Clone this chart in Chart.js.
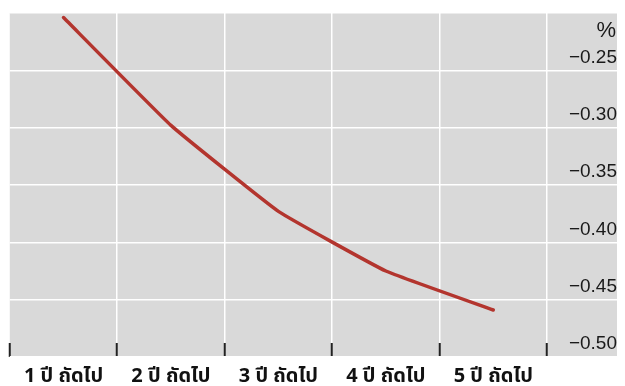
<!DOCTYPE html>
<html lang="th">
<head>
    <meta charset="UTF-8">
    <title>อัตราดอกเบี้ย ปีถัดไป</title>
    <script src="https://cdn.jsdelivr.net/npm/chart.js"></script>
    <style>
        html, body {
            margin: 0;
            padding: 0;
            background: #fff;
        }
        canvas {
            display: block;
        }
    </style>
</head>
<body>
<canvas id="chart" width="625" height="386"></canvas>

<script>
    // ข้อมูลจากกราฟ
    const labels = ['1 ปี ถัดไป', '2 ปี ถัดไป', '3 ปี ถัดไป', '4 ปี ถัดไป', '5 ปี ถัดไป'];
    const values = [-0.204, -0.298, -0.373, -0.425, -0.459];
    const yTicks = [-0.50, -0.45, -0.40, -0.35, -0.30, -0.25, -0.20];
    const unitLabel = '%';

    const gray = '#d9d9d9';
    const lineColor = '#b3352e';
    const axisWidth = 70;   // พื้นที่ป้ายแกน y ด้านขวา
    const labelRight = 65;  // ขอบขวาของตัวเลขนับจากเส้นแกน

    function fmt(v) {
        if (v > -0.225) return '';
        return '\u2212' + Math.abs(v).toFixed(2);
    }

    const yFont = { family: '"Liberation Sans", Arial, sans-serif', size: 19 };
    const meas = document.createElement('canvas').getContext('2d');
    meas.font = yFont.size + 'px ' + yFont.family;
    const widest = Math.max(...yTicks.map(v => meas.measureText(fmt(v)).width));

    // พื้นหลังสีเทา + สัญลักษณ์ %
    const panel = {
        id: 'panel',
        beforeDraw(chart) {
            const { ctx, chartArea } = chart;
            const y = chart.scales.y;
            ctx.save();
            ctx.fillStyle = gray;
            ctx.fillRect(chartArea.left, chartArea.top, y.right - chartArea.left, chartArea.bottom - chartArea.top);
            ctx.restore();
        },
        afterDraw(chart) {
            const { ctx } = chart;
            const y = chart.scales.y;
            ctx.save();
            ctx.font = '22px ' + yFont.family;
            ctx.fillStyle = '#1a1a1a';
            ctx.textAlign = 'right';
            ctx.textBaseline = 'middle';
            ctx.fillText(unitLabel, y.right - 1, y.getPixelForValue(-0.20) + 18);
            ctx.restore();
        }
    };

    new Chart(document.getElementById('chart'), {
        type: 'line',
        data: {
            labels: labels,
            datasets: [{
                data: values,
                borderColor: lineColor,
                borderWidth: 3.5,
                borderCapStyle: 'round',
                pointRadius: 0,
                tension: 0.1
            }]
        },
        options: {
            responsive: false,
            animation: false,
            layout: { padding: { left: 9, top: 13, right: 8, bottom: 0 } },
            plugins: {
                legend: { display: false },
                tooltip: { enabled: false }
            },
            scales: {
                x: {
                    offset: true,
                    border: { display: false },
                    grid: {
                        offset: true,
                        color: c => c.index === 0 ? 'rgba(0,0,0,0)' : '#ffffff',
                        lineWidth: 1.5,
                        tickColor: '#222222',
                        tickWidth: 2,
                        tickLength: -14
                    },
                    ticks: {
                        padding: 23,
                        maxRotation: 0,
                        autoSkip: false,
                        color: '#111111',
                        font: { family: '"Noto Sans Thai", "Noto Sans", sans-serif', size: 20, weight: 'bold' }
                    },
                    afterFit(scale) { scale.height = 29; }
                },
                y: {
                    position: 'right',
                    min: -0.50,
                    max: -0.20,
                    border: { display: false },
                    grid: {
                        color: '#ffffff',
                        lineWidth: 1.5,
                        tickLength: axisWidth
                    },
                    afterBuildTicks(scale) {
                        scale.ticks = yTicks.map(v => ({ value: v }));
                    },
                    ticks: {
                        callback: v => fmt(v),
                        crossAlign: 'far',
                        padding: labelRight - axisWidth - widest,
                        labelOffset: -13,
                        color: '#1a1a1a',
                        font: yFont
                    },
                    afterFit(scale) { scale.width = axisWidth; }
                }
            }
        },
        plugins: [panel]
    });
</script>
</body>
</html>
